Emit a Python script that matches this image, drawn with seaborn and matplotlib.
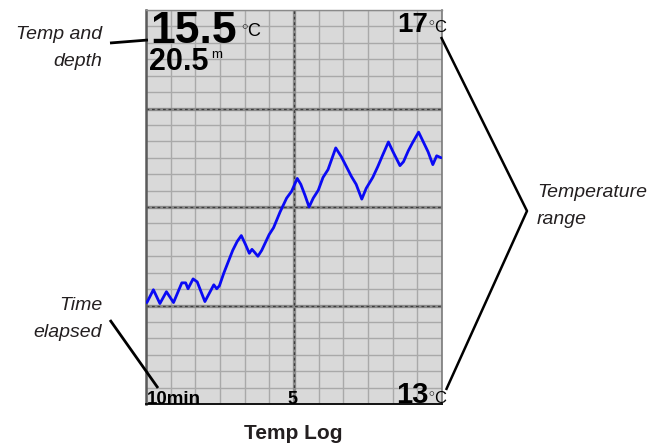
import numpy as np
import pandas as pd
import matplotlib
matplotlib.use("Agg")
import matplotlib.pyplot as plt
from matplotlib.lines import Line2D
import seaborn as sns

# Temperature log: position along the time axis (0 = 10 min ago, 10 = now) and water temperature (°C)
minutes = [0.03, 0.25, 0.47, 0.69, 0.93, 1.21, 1.34, 1.42, 1.59, 1.73,
           1.99, 2.29, 2.39, 2.48, 2.63, 2.93, 3.08, 3.22, 3.36, 3.49,
           3.58, 3.67, 3.78, 3.91, 4.16, 4.31, 4.53, 4.75, 4.92, 5.11,
           5.23, 5.37, 5.51, 5.65, 5.82, 5.98, 6.15, 6.41, 6.60, 6.77,
           6.94, 7.10, 7.29, 7.44, 7.66, 7.83, 8.00, 8.19, 8.33, 8.58,
           8.70, 8.86, 9.00, 9.21, 9.37, 9.53, 9.69, 9.82, 9.97]
temps = [14.03, 14.16, 14.02, 14.14, 14.03, 14.23, 14.23, 14.17, 14.27, 14.24,
         14.04, 14.21, 14.17, 14.20, 14.33, 14.56, 14.65, 14.71, 14.62, 14.53,
         14.57, 14.54, 14.50, 14.56, 14.72, 14.79, 14.95, 15.09, 15.16, 15.29,
         15.23, 15.12, 15.00, 15.09, 15.17, 15.30, 15.38, 15.60, 15.51, 15.41,
         15.31, 15.23, 15.08, 15.19, 15.30, 15.41, 15.53, 15.66, 15.57, 15.42,
         15.46, 15.57, 15.65, 15.76, 15.66, 15.56, 15.43, 15.52, 15.50]

current_temp = "15.5"
current_depth = "20.5"
temp_max_label = "17"
temp_min_label = "13"
time_labels = ["10min", "5"]
temp_range = (13, 17)
time_range = (0, 10)

df = pd.DataFrame({"minute": minutes, "temp": temps})

sns.set_style("white")
plt.rcParams["font.family"] = ["Liberation Sans", "DejaVu Sans"]
plt.rcParams["mathtext.fontset"] = "custom"
plt.rcParams["mathtext.rm"] = "Liberation Sans"

W, H = 652, 448
fig = plt.figure(figsize=(W / 100, H / 100), dpi=100)
fig.patch.set_facecolor("white")


def fx(x):
    return x / W


def fy(y):
    return 1 - y / H


left, right, top, bottom = 146, 442, 10, 404
ax = fig.add_axes([fx(left), fy(bottom), (right - left) / W, (bottom - top) / H])
ax.set_facecolor("#d9d9d9")
ax.set_xlim(*time_range)
ax.set_ylim(*temp_range)

# fine grid: 12 columns, 24 rows
ax.set_xticks(np.linspace(time_range[0], time_range[1], 13))
ax.set_yticks(np.linspace(temp_range[0], temp_range[1], 25))
ax.set_xticklabels([])
ax.set_yticklabels([])
ax.tick_params(length=0)
ax.grid(True, color="#a9a9a9", lw=1.0)
ax.set_axisbelow(True)

# heavier dashed division lines
for yv in (14, 15, 16):
    ax.axhline(yv, color="#8c8c8c", lw=2.4, zorder=1.5)
    ax.axhline(yv, color="#3e3e3e", lw=0.9, dashes=(2.2, 2.2), zorder=1.6)
ax.axvline(5, color="#8c8c8c", lw=2.4, zorder=1.5)
ax.axvline(5, color="#3e3e3e", lw=0.9, dashes=(2.2, 2.2), zorder=1.6)

sns.lineplot(data=df, x="minute", y="temp", ax=ax, color="#0a0af5",
             lw=2.0, estimator=None, sort=False, zorder=3)
ax.set_xlabel("")
ax.set_ylabel("")

ax.spines["left"].set_color("#5a5a5a")
ax.spines["left"].set_linewidth(1.8)
ax.spines["top"].set_color("#8a8a8a")
ax.spines["top"].set_linewidth(1.0)
ax.spines["right"].set_color("#7a7a7a")
ax.spines["right"].set_linewidth(1.2)
ax.spines["bottom"].set_color("#111111")
ax.spines["bottom"].set_linewidth(1.4)


# readouts inside the panel
def ftext(x, y, s, **kw):
    kw.setdefault("color", "black")
    fig.text(fx(x), fy(y), s, va="baseline", **kw)


DEG_C = r"$^{\circ}$C"

ftext(150, 43, current_temp, fontsize=32, fontweight="bold")
ftext(241, 36, DEG_C, fontsize=13)
ftext(149, 70, current_depth, fontsize=22, fontweight="bold")
ftext(211, 58, "m", fontsize=9.5)

ftext(428, 32, temp_max_label, fontsize=20, fontweight="bold", ha="right")
ftext(428, 33, DEG_C, fontsize=12)

ftext(428, 403, temp_min_label, fontsize=21, fontweight="bold", ha="right")
ftext(428, 404, DEG_C, fontsize=12)

ftext(147, 404, time_labels[0], fontsize=13.5, fontweight="bold")
ftext(292, 404, time_labels[1], fontsize=13, fontweight="bold", ha="center")

# callouts around the panel
note = dict(fontsize=14, style="italic", color="#231f20")
ftext(102, 39, "Temp and", ha="right", **note)
ftext(102, 66, "depth", ha="right", **note)
ftext(102, 310, "Time", ha="right", **note)
ftext(102, 337, "elapsed", ha="right", **note)
ftext(537, 197, "Temperature", ha="left", **note)
ftext(537, 224, "range", ha="left", **note)


def fline(pts, lw=2.0):
    xs = [fx(p[0]) for p in pts]
    ys = [fy(p[1]) for p in pts]
    fig.add_artist(Line2D(xs, ys, transform=fig.transFigure, color="black",
                          lw=lw, solid_capstyle="butt"))


fline([(110, 43), (148, 40)])
fline([(110, 320), (158, 388)])
fline([(441, 37), (527, 211), (446, 390)], lw=1.8)

fig.text(0.5 * (243 + 343) / W, fy(439), "Temp Log", ha="center", va="baseline",
         fontsize=15, fontweight="bold", color="#231f20")

fig.savefig("out.png", dpi=100)
